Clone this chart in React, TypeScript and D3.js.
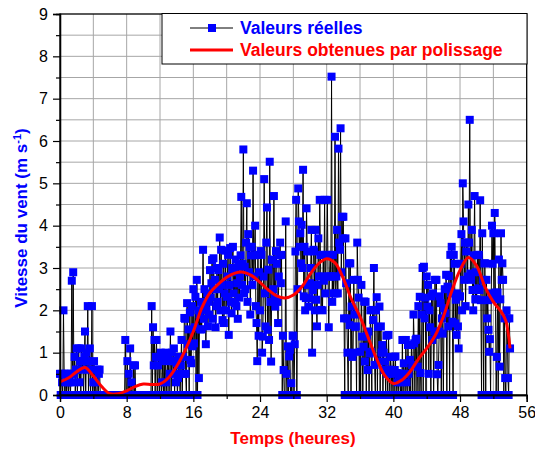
import React, { useEffect, useRef } from 'react';
import * as d3 from 'd3';

// mesures toutes les 5 minutes, une ligne = une heure
const pasHeures = 1 / 12;

const vent00_09 = [
  0.5, 0, 0.5, 0.3, 0, 2.0, 0.5, 0, 0.5, 0, 0.5, 0.3,
  0, 0.5, 0.3, 0, 0.5, 2.7, 0.3, 2.9, 0.5, 0.9, 0, 0.6,
  1.1, 0, 0.6, 1.1, 0.3, 0.8, 0, 1.1, 0.6, 0.8, 0, 0.9,
  1.5, 0, 1.0, 0.6, 2.1, 0, 0.8, 1.1, 0, 0.6, 2.1, 0,
  0.3, 0.8, 0, 0.3, 0, 0, 0.6, 0, 0.5, 0.6, 0, 0,
  0, 0, 0, 0, 0, 0, 0, 0, 0, 0, 0, 0,
  0, 0, 0, 0, 0, 0, 0, 0, 0, 0, 0, 0,
  0, 0, 0, 0, 0, 0, 0, 0, 0, 0, 1.3, 0,
  0, 0.8, 0, 0.5, 0, 1.1, 0, 0.3, 0, 0, 0.7, 0,
];
const vent09_18 = [
  0.7, 0, 0, 0, 0, 0, 0, 0, 0, 0, 0, 0,
  0, 0, 0, 0, 0, 0, 0, 0, 0, 0, 0, 0,
  2.1, 0, 1.6, 0.7, 1.3, 0, 0.9, 1.3, 0, 0.7, 0.9, 0,
  0.9, 1.0, 0, 0.3, 0.8, 0, 0.9, 0, 1.0, 0.3, 0, 0.9,
  0.8, 0, 0.5, 1.5, 0, 1.0, 0.8, 0.5, 1.1, 0, 0.8, 0.3,
  0.75, 0, 0.4, 0.9, 0.5, 0, 0.7, 1.3, 0, 0.9, 0.5, 1.82,
  1.8, 0.5, 0, 2.17, 1.2, 1.55, 0, 1.95, 0.83, 0.75, 2.1, 1.15,
  2.5, 1.22, 1.6, 2.32, 0, 2.72, 0, 2.0, 0.4, 1.9, 1.55, 2.2,
  1.55, 2.1, 3.43, 1.8, 2.5, 2.17, 1.2, 2.0, 2.4, 1.62, 2.2, 1.9,
];
const vent18_27 = [
  2.95, 2.3, 2.64, 3.19, 1.8, 3.23, 2.5, 2.72, 1.6, 2.1, 3.0, 2.2,
  2.95, 2.5, 3.72, 2.0, 3.43, 2.6, 1.77, 3.1, 1.7, 2.4, 3.41, 2.0,
  2.32, 2.8, 3.31, 1.42, 2.6, 3.47, 2.2, 1.93, 3.0, 3.5, 2.4, 2.9,
  2.17, 3.2, 2.1, 2.64, 1.8, 3.03, 2.3, 2.8, 3.3, 4.68, 2.6, 3.1,
  5.8, 2.4, 3.03, 2.5, 3.6, 4.53, 2.2, 3.8, 2.9, 3.5, 1.9, 3.3,
  3.5, 2.6, 5.3, 2.8, 3.3, 4.0, 2.1, 1.7, 0.8, 3.31, 1.4, 2.9,
  2.0, 3.4, 3.31, 1.0, 1.38, 2.8, 5.1, 2.4, 1.62, 3.6, 4.43, 1.54,
  2.96, 1.3, 5.51, 2.2, 0.79, 3.2, 3.19, 2.5, 4.7, 2.3, 2.09, 3.4,
  3.1, 2.2, 1.7, 2.8, 3.3, 3.6, 2.64, 3.31, 0, 1.4, 0.59, 0,
];
const vent27_36 = [
  0, 4.1, 0.5, 0, 1.15, 0, 0.91, 1.07, 0, 0.28, 0, 1.4,
  1.4, 0, 1.2, 3.39, 4.61, 0, 2.5, 4.88, 4.1, 3.5, 3.82, 3.11,
  4.02, 3.0, 5.32, 2.33, 3.5, 2.0, 2.29, 4.41, 3.39, 2.6, 2.09, 2.29,
  2.64, 3.0, 3.9, 1.0, 2.48, 3.43, 3.39, 2.0, 3.9, 2.25, 1.62, 2.6,
  3.7, 2.8, 4.61, 3.31, 2.01, 2.8, 2.0, 3.31, 2.7, 4.61, 2.4, 3.3,
  3.31, 4.61, 2.8, 1.6, 2.8, 3.31, 2.8, 7.52, 2.2, 3.31, 2.4, 2.8,
  6.1, 2.4, 2.8, 3.9, 2.4, 5.82, 3.6, 3.43, 6.3, 2.9, 4.21, 3.7,
  4.21, 1.81, 0, 3.7, 2.64, 1.81, 1.0, 0, 3.11, 1.65, 3.11, 0,
  2.09, 0.9, 1.0, 2.72, 1.9, 1.61, 1.62, 0, 3.6, 2.72, 2.3, 0,
];
const vent36_45 = [
  1.02, 0, 2.6, 1.38, 0, 1.14, 2.21, 0.79, 2.2, 0, 1.38, 0.59,
  1.5, 0, 0.98, 2.0, 1.02, 0, 2.01, 1.77, 3.0, 0.71, 0, 2.0,
  2.31, 0, 1.61, 0.79, 2.09, 0, 1.62, 1.0, 1.18, 0, 1.0, 0.59,
  0.79, 0, 1.4, 0.5, 0, 1.42, 0.6, 0, 0.9, 0.59, 0, 0.5,
  0.9, 0, 0.59, 0.91, 0, 0.52, 0.3, 0, 0.48, 0.51, 0, 0.3,
  0, 1.3, 0, 0.75, 0.5, 0, 1.3, 0.3, 0, 1.18, 0.5, 0,
  0.83, 0, 1.18, 0.71, 0, 1.9, 1.22, 0, 1.3, 1.33, 0, 0.67,
  2.1, 0, 2.32, 0.52, 0, 1.9, 3.0, 0, 3.03, 1.81, 2.3, 0,
  2.8, 2.09, 2.6, 0.5, 2.0, 1.6, 0, 2.33, 1.3, 2.4, 0, 1.5,
];
const vent45_54 = [
  2.72, 1.42, 2.72, 0.49, 0, 0.71, 1.5, 2.33, 2.17, 0, 1.81, 1.45,
  0, 2.05, 2.5, 1.93, 2.84, 0, 2.56, 1.62, 2.81, 0, 3.31, 2.4,
  3.5, 1.73, 0, 3.31, 3.1, 1.69, 2.25, 1.42, 2.4, 1.62, 1.1, 2.33,
  2.33, 3.1, 3.8, 2.0, 5.0, 4.1, 2.72, 3.6, 2.1, 3.39, 3.6, 2.8,
  4.5, 3.6, 6.5, 2.87, 2.72, 3.9, 2.48, 2.0, 3.3, 4.7, 2.26, 2.9,
  2.26, 3.31, 2.52, 3.31, 2.48, 4.6, 2.24, 0, 3.82, 2.72, 0, 3.11,
  3.11, 0, 2.72, 1.81, 2.24, 1.54, 1.02, 1.32, 0, 2.4, 4.0, 3.1,
  3.82, 2.26, 4.3, 2.42, 0, 0.9, 2.42, 0, 3.2, 0.67, 2.26, 3.82,
  2.72, 3.11, 2.72, 0, 1.81, 0.4, 0, 2.0, 1.81, 0.4, 0, 1.81,
  1.1,
];

// courbe lissée (lue toutes les heures)
const lisseHeures = [
  0, 1, 2, 3, 4, 5, 6, 7, 8, 9, 10, 11, 12, 13, 14, 15, 16, 17, 18, 19,
  20, 21, 22, 23, 24, 25, 26, 27, 28, 29, 30, 31, 32, 33, 34, 35, 36, 37, 38, 39,
  40, 41, 42, 43, 44, 45, 46, 47, 48, 49, 50, 51, 52, 53, 53.5, 54,
];
const lisseValeurs = [
  0.31, 0.4, 0.55, 0.65, 0.45, 0.2, 0.03, 0.03, 0.1, 0.2, 0.26, 0.25, 0.26, 0.4, 0.68, 1.05, 1.5, 2.05, 2.42, 2.62,
  2.78, 2.88, 2.9, 2.82, 2.66, 2.48, 2.34, 2.29, 2.36, 2.55, 2.85, 3.1, 3.22, 3.12, 2.75, 2.25, 1.85, 1.35, 0.85, 0.45,
  0.27, 0.35, 0.55, 0.85, 1.1, 1.4, 1.85, 2.45, 2.95, 3.25, 3.05, 2.55, 2.2, 1.95, 1.75, 1.1,
];

const xTicks = [0, 8, 16, 24, 32, 40, 48, 56];
const yTicks = [0, 1, 2, 3, 4, 5, 6, 7, 8, 9];

const police = '"Liberation Sans", Arial, Helvetica, sans-serif';

export default function App() {
  const ref = useRef<SVGSVGElement>(null);

  useEffect(() => {
    const svg = d3.select(ref.current);
    svg.selectAll('*').remove();

    const valeurs = [...vent00_09, ...vent09_18, ...vent18_27, ...vent27_36, ...vent36_45, ...vent45_54];
    const data = valeurs.map((v, i) => ({ t: i * pasHeures, v }));
    const lisse = lisseHeures.map((t, i) => ({ t, v: lisseValeurs[i] }));

    const x = d3.scaleLinear().domain([0, 56]).range([60, 526.7]);
    const y = d3.scaleLinear().domain([0, 9]).range([395, 14]);

    const g = svg.append('g');

    // grille
    g.selectAll('.gx').data(d3.range(4, 56, 4)).join('line')
      .attr('x1', d => x(d)).attr('x2', d => x(d))
      .attr('y1', y(0)).attr('y2', y(9))
      .attr('stroke', '#a6a6a6').attr('stroke-width', 1);
    g.selectAll('.gy').data(d3.range(0.5, 9, 0.5)).join('line')
      .attr('x1', x(0)).attr('x2', x(56))
      .attr('y1', d => y(d)).attr('y2', d => y(d))
      .attr('stroke', '#a6a6a6').attr('stroke-width', 1);

    // valeurs réelles
    const ligne = d3.line<{ t: number; v: number }>().x(d => x(d.t)).y(d => y(d.v));
    g.append('path').datum(data).attr('d', ligne)
      .attr('fill', 'none').attr('stroke', '#000').attr('stroke-width', 1);
    g.selectAll('.pt').data(data).join('rect')
      .attr('x', d => x(d.t) - 4).attr('y', d => y(d.v) - 4)
      .attr('width', 8).attr('height', 8)
      .attr('fill', '#0000ff');

    // courbe de polissage
    const courbe = d3.line<{ t: number; v: number }>()
      .x(d => x(d.t)).y(d => y(d.v)).curve(d3.curveCatmullRom.alpha(0.5));
    g.append('path').datum(lisse).attr('d', courbe)
      .attr('fill', 'none').attr('stroke', '#ff0000').attr('stroke-width', 3);

    // cadre + axes
    g.append('rect').attr('x', x(0)).attr('y', y(9))
      .attr('width', x(56) - x(0)).attr('height', y(0) - y(9))
      .attr('fill', 'none').attr('stroke', '#000').attr('stroke-width', 1.3);

    const axeY = g.append('g').attr('transform', `translate(${x(0)},0)`);
    axeY.call(d3.axisLeft(y).tickValues(yTicks).tickFormat(d3.format('d')).tickSize(7).tickPadding(5));
    axeY.append('g').call(d3.axisLeft(y).tickValues(d3.range(0.5, 9, 1)).tickSize(4).tickFormat(() => ''));
    const axeX = g.append('g').attr('transform', `translate(0,${y(0)})`);
    axeX.call(d3.axisBottom(x).tickValues(xTicks).tickSize(7).tickPadding(5));
    axeX.append('g').call(d3.axisBottom(x).tickValues(d3.range(4, 56, 8)).tickSize(4).tickFormat(() => ''));
    g.selectAll('.domain').attr('stroke', '#000').attr('stroke-width', 1.3);
    g.selectAll('.tick line').attr('stroke', '#000').attr('stroke-width', 1.2);
    g.selectAll('.tick text').attr('font-family', police).attr('font-size', 16).attr('fill', '#000');

    // légende
    const leg = g.append('g');
    leg.append('rect').attr('x', 162).attr('y', 13.5).attr('width', 365).attr('height', 50.5)
      .attr('fill', '#fff').attr('stroke', '#000').attr('stroke-width', 1);
    leg.append('line').attr('x1', 190).attr('x2', 233).attr('y1', 28).attr('y2', 28)
      .attr('stroke', '#000').attr('stroke-width', 1);
    leg.append('rect').attr('x', 208).attr('y', 24).attr('width', 8).attr('height', 8).attr('fill', '#0000ff');
    leg.append('text').attr('x', 240).attr('y', 33.5).text('Valeurs réelles')
      .attr('font-family', police).attr('font-weight', 'bold').attr('font-size', 17.5).attr('fill', '#0000ff');
    leg.append('line').attr('x1', 190).attr('x2', 233).attr('y1', 50).attr('y2', 50)
      .attr('stroke', '#ff0000').attr('stroke-width', 3);
    leg.append('text').attr('x', 240).attr('y', 55.5).text('Valeurs obtenues par polissage')
      .attr('font-family', police).attr('font-weight', 'bold').attr('font-size', 17.5).attr('fill', '#ff0000');

    // titres
    svg.append('text').attr('x', 293).attr('y', 444).attr('text-anchor', 'middle')
      .attr('font-family', police).attr('font-weight', 'bold').attr('font-size', 17).attr('fill', '#ff0000')
      .text('Temps (heures)');
    const ty = svg.append('text').attr('transform', 'translate(26.5,218) rotate(-90)')
      .attr('text-anchor', 'middle')
      .attr('font-family', police).attr('font-weight', 'bold').attr('font-size', 17).attr('fill', '#0000ff');
    ty.append('tspan').text('Vitesse du vent (m s');
    ty.append('tspan').attr('dy', -6).attr('font-size', 11).text('-1');
    ty.append('tspan').attr('dy', 6).text(')');
  }, []);

  return (
    <svg ref={ref} width={535} height={452}
      style={{ position: 'absolute', left: 0, top: 0, background: '#fff' }} />
  );
}
